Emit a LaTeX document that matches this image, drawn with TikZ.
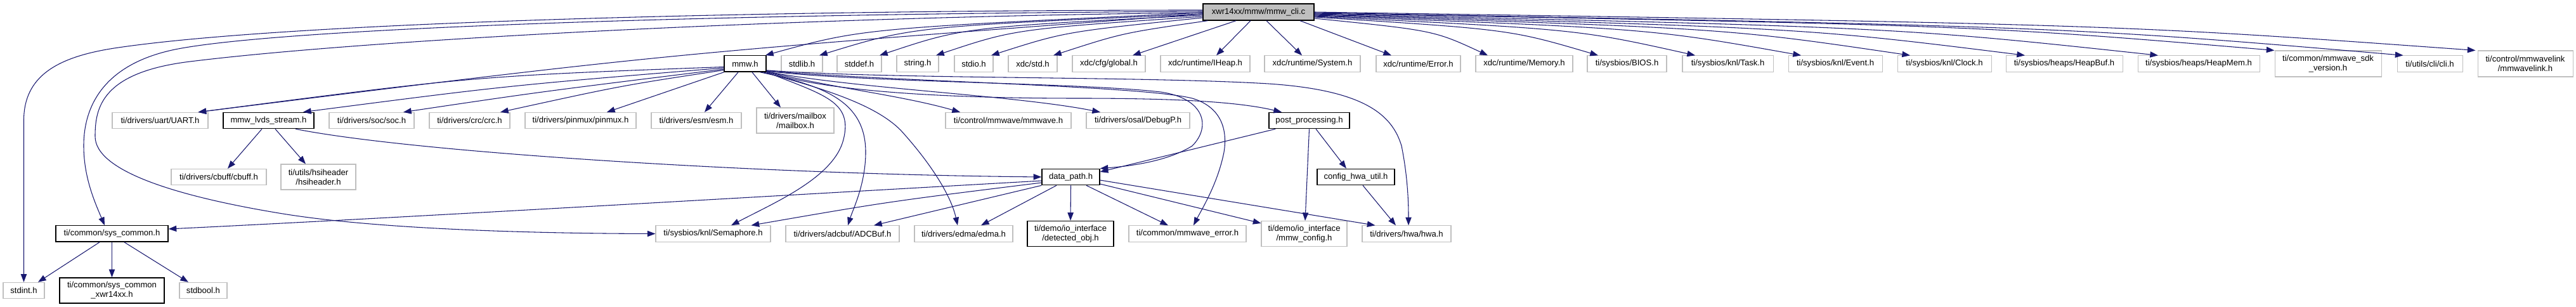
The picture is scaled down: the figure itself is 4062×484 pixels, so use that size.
\documentclass[tikz,border=0pt]{standalone}
\usepackage{fontspec}
\setmainfont{Liberation Sans}
\usetikzlibrary{arrows.meta,calc}
\definecolor{edgeblue}{HTML}{191970}
\definecolor{boxgrey}{HTML}{BFBFBF}
\tikzset{
  base/.style={rectangle, inner sep=0pt, font=\fontsize{9.8pt}{11.25pt}\selectfont, align=center, minimum height=19pt},
  gbox/.style={base, draw=boxgrey, fill=white, line width=0.8pt},
  bbox/.style={base, draw=black, fill=white, line width=1pt},
  topbox/.style={base, draw=black, fill=boxgrey, line width=1pt},
  edge/.style={draw=edgeblue, line width=0.8pt, -{Triangle[length=9.5pt,width=7pt]}},
  wd/.style={minimum width=#1*0.75pt},
  ht/.style={minimum height=#1*0.75pt}
}
\begin{document}
\begin{tikzpicture}[x=0.75pt,y=-0.75pt]
\useasboundingbox (0,0) rectangle (4062,484);
% top
\node[topbox, wd=175, ht=26] (cli) at (1984.5,19) {xwr14xx/mmw/mmw\_cli.c};
% row 2
\node[bbox, wd=66] (mmwh) at (1175,100.5) {mmw.h};
\node[gbox, wd=65] (stdlib) at (1264.5,100.5) {stdlib.h};
\node[gbox, wd=70] (stddef) at (1355,100.5) {stddef.h};
\node[gbox, wd=66] (strng) at (1447,100.5) {string.h};
\node[gbox, wd=61] (stdio) at (1535.5,100.5) {stdio.h};
\node[gbox, wd=77] (xstd) at (1628.5,100.5) {xdc/std.h};
\node[gbox, wd=115] (glob) at (1748.5,100.5) {xdc/cfg/global.h};
\node[gbox, wd=141] (iheap) at (1900.5,100.5) {xdc/runtime/IHeap.h};
\node[gbox, wd=151] (sysrt) at (2069.5,100.5) {xdc/runtime/System.h};
\node[gbox, wd=133] (err) at (2236.5,100.5) {xdc/runtime/Error.h};
\node[gbox, wd=153] (mem) at (2403.5,100.5) {xdc/runtime/Memory.h};
\node[gbox, wd=125] (bios) at (2565.5,100.5) {ti/sysbios/BIOS.h};
\node[gbox, wd=143] (task) at (2724.5,100.5) {ti/sysbios/knl/Task.h};
\node[gbox, wd=148] (event) at (2894,100.5) {ti/sysbios/knl/Event.h};
\node[gbox, wd=148] (clock) at (3066,100.5) {ti/sysbios/knl/Clock.h};
\node[gbox, wd=184] (hbuf) at (3255,100.5) {ti/sysbios/heaps/HeapBuf.h};
\node[gbox, wd=192] (hmem) at (3467,100.5) {ti/sysbios/heaps/HeapMem.h};
\node[gbox, wd=168, ht=41] (sdkv) at (3671,100.5) {ti/common/mmwave\_sdk\\\_version.h};
\node[gbox, wd=103] (clih) at (3831.5,100.5) {ti/utils/cli/cli.h};
\node[gbox, wd=150, ht=41] (mlink) at (3982,100.5) {ti/control/mmwavelink\\/mmwavelink.h};
% row 3
\node[gbox, wd=151] (uart) at (252.5,190) {ti/drivers/uart/UART.h};
\node[bbox, wd=143] (lvds) at (423.5,190) {mmw\_lvds\_stream.h};
\node[gbox, wd=134] (soc) at (586,190) {ti/drivers/soc/soc.h};
\node[gbox, wd=127] (crc) at (740.5,190) {ti/drivers/crc/crc.h};
\node[gbox, wd=175] (pinmux) at (915.5,190) {ti/drivers/pinmux/pinmux.h};
\node[gbox, wd=142] (esm) at (1098,190) {ti/drivers/esm/esm.h};
\node[gbox, wd=122, ht=40] (mbox) at (1254,190) {ti/drivers/mailbox\\/mailbox.h};
\node[gbox, wd=198] (mmwave) at (1590,190) {ti/control/mmwave/mmwave.h};
\node[gbox, wd=163] (debugp) at (1794.5,190) {ti/drivers/osal/DebugP.h};
\node[bbox, wd=127] (post) at (2064.5,190) {post\_processing.h};
% row 4
\node[gbox, wd=150] (cbuff) at (345,279) {ti/drivers/cbuff/cbuff.h};
\node[gbox, wd=118, ht=40] (hsi) at (502,279) {ti/utils/hsiheader\\/hsiheader.h};
\node[bbox, wd=91] (dpath) at (1688.5,279) {data\_path.h};
\node[bbox, wd=122] (cfghwa) at (2138,279) {config\_hwa\_util.h};
% row 5
\node[bbox, wd=177] (syscom) at (176.5,368.5) {ti/common/sys\_common.h};
\node[gbox, wd=181] (sema) at (1124.5,368.5) {ti/sysbios/knl/Semaphore.h};
\node[gbox, wd=179] (adc) at (1328.5,368.5) {ti/drivers/adcbuf/ADCBuf.h};
\node[gbox, wd=155] (edma) at (1519.5,368.5) {ti/drivers/edma/edma.h};
\node[bbox, wd=136, ht=40] (detobj) at (1688,368.5) {ti/demo/io\_interface\\/detected\_obj.h};
\node[gbox, wd=185] (merr) at (1872.5,368.5) {ti/common/mmwave\_error.h};
\node[gbox, wd=135, ht=40] (mcfg) at (2056.5,368.5) {ti/demo/io\_interface\\/mmw\_config.h};
\node[gbox, wd=140] (hwa) at (2218,368.5) {ti/drivers/hwa/hwa.h};
% row 6
\node[gbox, wd=65] (stdint) at (37.5,458) {stdint.h};
\node[bbox, wd=165, ht=40] (xwr) at (176.5,458) {ti/common/sys\_common\\\_xwr14xx.h};
\node[gbox, wd=75] (stdbool) at (320.5,458) {stdbool.h};

% ---- edges from mmw_cli.c, right fan
\draw[edge] ($(cli.south)+(-12.5,0)$) -- ($(iheap.north)+(17.5,0)$);
\draw[edge] ($(cli.south)+(12.5,0)$) -- ($(sysrt.north)+(-16.5,0)$);
\draw[edge] ($(cli.south)+(65.5,0)$) -- ($(err.north)+(-42.5,0)$);
\draw[edge] ($(cli.east)+(0,10)$) .. controls (2261,48) .. ($(mem.north)+(-57.5,0)$);
\draw[edge] ($(cli.east)+(0,8)$) .. controls (2381,46.5) .. ($(bios.north)+(-45.5,0)$);
\draw[edge] ($(cli.east)+(0,7)$) .. controls (2487,46) .. ($(task.north)+(-51.5,0)$);
\draw[edge] ($(cli.east)+(0,6)$) .. controls (2602,45) .. ($(event.north)+(-54,0)$);
\draw[edge] ($(cli.east)+(0,5)$) .. controls (2721,44.5) .. ($(clock.north)+(-54,0)$);
\draw[edge] ($(cli.east)+(0,4)$) .. controls (2845,44) .. ($(hbuf.north)+(-62,0)$);
\draw[edge] ($(cli.east)+(0,3)$) .. controls (2990,43) .. ($(hmem.north)+(-64,0)$);
\draw[edge] ($(cli.east)+(0,2)$) .. controls (3117,40) .. (sdkv.north west);
\draw[edge] ($(cli.east)+(0,1)$) .. controls (3257,42) .. ($(clih.north west)+(10,0)$);
\draw[edge] (cli.east) .. controls (3336,38.5) .. ($(mlink.north west)+(-3,0)$);
% ---- edges from mmw_cli.c, left fan
\draw[edge] ($(cli.south)+(-35.5,0)$) -- ($(glob.north)+(37.5,0)$);
\draw[edge] ($(cli.south west)+(8,0)$) .. controls (1770,52) .. ($(xstd.north)+(32.5,0)$);
\draw[edge] ($(cli.west)+(0,9)$) .. controls (1680,50) .. ($(stdio.north)+(27.5,0)$);
\draw[edge] ($(cli.west)+(0,7)$) .. controls (1600,46) .. ($(strng.north)+(29,0)$);
\draw[edge] ($(cli.west)+(0,5)$) .. controls (1520,43) .. ($(stddef.north)+(32,0)$);
\draw[edge] ($(cli.west)+(0,3)$) .. controls (1440,42) .. ($(stdlib.north)+(27.5,0)$);
\draw[edge] ($(cli.west)+(0,1)$) .. controls (1360,45) .. ($(mmwh.north)+(32,0)$);
\draw[edge] ($(cli.west)+(0,3)$) .. controls (1050,85) .. ($(uart.north)+(60,0)$);
\draw[edge] ($(cli.west)+(0,-3)$) .. controls (1200,16) and (450,35) .. (180,76)
  .. controls (90,90) and (37.5,120) .. (37.5,190) -- (stdint.north);
\draw[edge] ($(cli.west)+(0,-1)$) .. controls (1100,22) and (450,45) .. (281,77)
  .. controls (171,98) and (132,160) .. (132,230)
  .. controls (132,280) and (150,320) .. ($(syscom.north)+(-11.5,0)$);
\draw[edge] ($(cli.west)+(0,1)$) .. controls (1300,26) and (600,60) .. (300,97)
  .. controls (160,114) and (150,170) .. (150,215)
  .. controls (150,270) and (280,310) .. (446,337)
  .. controls (600,362) and (850,368) .. (sema.west);

% ---- edges from mmw.h
\draw[edge] ($(mmwh.west)+(0,5)$) .. controls (750,120) .. ($(uart.north)+(60,0)$);
\draw[edge] ($(mmwh.west)+(0,6.5)$) .. controls (800,135) .. ($(lvds.north)+(54.5,0)$);
\draw[edge] ($(mmwh.west)+(0,8.5)$) .. controls (850,145) .. ($(soc.north)+(50,0)$);
\draw[edge] ($(mmwh.west)+(0,10)$) .. controls (980,135) .. ($(crc.north)+(48.5,0)$);
\draw[edge] (mmwh.south west) -- ($(pinmux.north)+(41.5,0)$);
\draw[edge] ($(mmwh.south)+(-11,0)$) -- ($(esm.north)+(13,0)$);
\draw[edge] ($(mmwh.south)+(11,0)$) -- ($(mbox.north)+(-23,0)$);
\draw[edge] (mmwh.south east) .. controls (1300,150) and (1345,160) .. (1330,220)
  .. controls (1315,280) and (1220,320) .. ($(sema.north)+(28.5,0)$);
\draw[edge] ($(mmwh.south east)+(-10,0)$) .. controls (1300,135) and (1365,160) .. (1365,240)
  .. controls (1365,290) and (1345,330) .. ($(adc.north)+(8.5,0)$);
\draw[edge] ($(mmwh.south east)+(-5,0)$) .. controls (1300,140) and (1380,165) .. (1420,205)
  .. controls (1470,260) and (1500,310) .. ($(edma.north)+(-9.5,0)$);
\draw[edge] ($(mmwh.south east)+(0,-1)$) .. controls (1320,140) and (1420,150) .. ($(mmwave.north)+(-76,0)$);
\draw[edge] ($(mmwh.south east)+(0,-1)$) .. controls (1350,140) and (1600,150) .. ($(debugp.north)+(-59.5,0)$);
\draw[edge] ($(mmwh.south east)+(0,-1)$) .. controls (1300,145) and (1500,155) .. (1700,155)
  .. controls (1850,155) and (1950,160) .. ($(post.north)+(-43.5,0)$);
\draw[edge] ($(mmwh.south east)+(0,-2)$) .. controls (1350,130) and (1700,130) .. (1830,145)
  .. controls (1900,155) and (1910,200) .. (1880,230)
  .. controls (1840,255) and (1780,262) .. (dpath.north east);
\draw[edge] ($(mmwh.south east)+(0,-2)$) .. controls (1400,128) and (1800,135) .. (1880,155)
  .. controls (1930,170) and (1935,210) .. (1930,240)
  .. controls (1920,290) and (1895,330) .. ($(merr.north)+(9.5,0)$);
\draw[edge] ($(mmwh.south east)+(0,-3)$) .. controls (1400,125) and (1800,120) .. (2000,132)
  .. controls (2150,142) and (2195,180) .. (2210,230)
  .. controls (2220,280) and (2221,320) .. ($(hwa.north)+(3,0)$);

% ---- mmw_lvds_stream.h
\draw[edge] ($(lvds.south)+(-10.5,0)$) -- ($(cbuff.north)+(14,0)$);
\draw[edge] ($(lvds.south)+(10.5,0)$) -- ($(hsi.north)+(-20,0)$);
\draw[edge] ($(lvds.south)+(42.5,0)$) .. controls (650,240) and (1200,275) .. (dpath.west);

% ---- post_processing.h
\draw[edge] ($(post.south west)+(11,0)$) -- ($(dpath.east)+(0,-8)$);
\draw[edge] (post.south) -- ($(mcfg.north)+(1.5,0)$);
\draw[edge] ($(post.south)+(10.5,0)$) -- ($(cfghwa.north)+(-15,0)$);
\draw[edge] ($(cfghwa.south)+(11,0)$) -- ($(hwa.north)+(-17,0)$);

% ---- data_path.h
\draw[edge] ($(dpath.west)+(0,6)$) .. controls (1200,310) and (600,345) .. ($(syscom.east)+(0,-7.5)$);
\draw[edge] ($(dpath.west)+(0,9)$) .. controls (1400,318) .. ($(sema.north)+(60,0)$);
\draw[edge] (dpath.south west) -- ($(adc.north)+(49.5,0)$);
\draw[edge] ($(dpath.south)+(-22.5,0)$) -- ($(edma.north)+(27.5,0)$);
\draw[edge] (dpath.south) -- (detobj.north);
\draw[edge] ($(dpath.south)+(24.5,0)$) -- ($(merr.north)+(-30.5,0)$);
\draw[edge] ($(dpath.east)+(0,11)$) -- ($(mcfg.north west)+(0,4)$);
\draw[edge] ($(dpath.east)+(0,5)$) -- ($(hwa.north west)+(21,0)$);

% ---- sys_common.h
\draw[edge] ($(syscom.south)+(-19.5,0)$) -- ($(stdint.north)+(22.5,0)$);
\draw[edge] (syscom.south) -- (xwr.north);
\draw[edge] ($(syscom.south)+(19.5,0)$) -- ($(stdbool.north)+(-23.5,0)$);
\end{tikzpicture}
\end{document}
